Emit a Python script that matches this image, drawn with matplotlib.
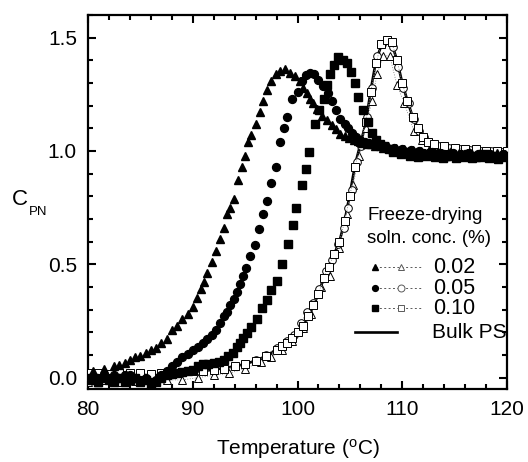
import matplotlib
matplotlib.use("Agg")
import matplotlib.pyplot as plt
from matplotlib.ticker import MultipleLocator

plt.rcParams['font.family'] = ['Liberation Sans', 'DejaVu Sans']
plt.rcParams['mathtext.fontset'] = 'custom'
plt.rcParams['mathtext.rm'] = 'Liberation Sans'
plt.rcParams['mathtext.it'] = 'Liberation Sans'

# ---------------- data ----------------
# 0.02 % (filled triangles)
T_tri = [80.0, 80.5, 81.0, 81.5, 82.0, 82.5, 83.0, 83.5, 84.0, 84.5, 85.0, 85.5, 86.0, 86.5,
         87.0, 87.5, 88.0, 88.5, 89.0, 89.5, 90.0, 90.4, 90.8, 91.1, 91.4, 91.8, 92.2, 92.6,
         93.0, 93.3, 93.6, 93.9, 94.3, 94.7, 95.0, 95.3, 95.6, 96.0, 96.4, 96.7, 97.1, 97.5,
         97.9, 98.3, 98.8, 99.3, 99.8, 100.2, 100.5, 100.9, 101.2, 101.5, 101.9, 102.3,
         102.8, 103.3, 103.7, 104.1, 104.5, 104.9,
         105.4, 105.8, 106.2, 106.6, 107.0, 107.4, 107.8, 108.2, 108.6, 109.0, 109.4, 109.8,
         110.2, 110.6, 111.0, 111.4, 111.8, 112.2, 112.6, 113.0, 113.4, 113.8, 114.2, 114.6,
         115.0, 115.4, 115.8, 116.2, 116.6, 117.0, 117.4, 117.8, 118.2, 118.6, 119.0, 119.4, 119.8]
C_tri = [0.0, 0.03, -0.02, 0.04, 0.0, 0.05, 0.055, 0.065, 0.08, 0.09, 0.095, 0.11, 0.12, 0.13,
         0.155, 0.17, 0.21, 0.23, 0.26, 0.28, 0.31, 0.35, 0.39, 0.42, 0.46, 0.51, 0.56, 0.61,
         0.66, 0.72, 0.75, 0.79, 0.87, 0.93, 0.98, 1.04, 1.07, 1.12, 1.17, 1.22, 1.27, 1.31,
         1.34, 1.355, 1.36, 1.345, 1.33, 1.31, 1.28, 1.256, 1.23, 1.21, 1.186, 1.153,
         1.136, 1.114, 1.095, 1.075, 1.066, 1.058,
         1.05, 1.045, 1.035, 1.03, 1.03, 1.02, 1.025, 1.015, 1.02, 1.01, 1.015, 1.005,
         1.01, 1.0, 1.005, 0.995, 1.0, 0.99, 1.0, 0.985, 0.995, 0.99, 0.98, 0.995,
         0.985, 0.99, 0.98, 0.99, 0.985, 0.975, 0.99, 0.98, 0.985, 0.975, 0.99, 0.98, 0.985]

# 0.05 % (filled circles)
T_cir = [80.0, 80.5, 81.0, 81.5, 82.0, 82.5, 83.0, 83.5, 84.0, 84.5, 85.0, 85.5, 86.0, 86.5,
         87.0, 87.5, 88.0, 88.5, 89.0, 89.5, 90.0, 90.5, 91.0, 91.4, 91.8, 92.2, 92.6, 93.0,
         93.3, 93.6, 93.9, 94.2, 94.5, 94.8, 95.1, 95.5, 95.9, 96.3, 96.7, 97.1, 97.5, 97.9,
         98.3, 98.7, 99.0, 99.5, 100.0, 100.4, 100.8, 101.2, 101.6, 102.0, 102.4, 102.9,
         103.3, 103.7, 104.1, 104.5, 104.8, 105.2, 105.6, 106.0,
         106.4, 106.8, 107.2, 107.6, 108.0, 108.4, 108.8, 109.2, 109.6, 110.0, 110.4, 110.8,
         111.2, 111.6, 112.0, 112.4, 112.8, 113.2, 113.6, 114.0, 114.4, 114.8, 115.2, 115.6,
         116.0, 116.4, 116.8, 117.2, 117.6, 118.0, 118.4, 118.8, 119.2, 119.6, 120.0]
C_cir = [0.0, -0.01, 0.0, 0.01, 0.0, 0.01, 0.0, 0.01, 0.01, 0.0, -0.01, 0.0, -0.02, -0.01,
         0.01, 0.03, 0.05, 0.07, 0.09, 0.105, 0.12, 0.135, 0.155, 0.17, 0.19, 0.21, 0.24, 0.27,
         0.29, 0.32, 0.345, 0.38, 0.415, 0.45, 0.485, 0.535, 0.585, 0.655, 0.72, 0.78, 0.86, 0.93,
         1.04, 1.10, 1.15, 1.23, 1.26, 1.31, 1.335, 1.345, 1.34, 1.315, 1.285, 1.255,
         1.22, 1.18, 1.14, 1.12, 1.10, 1.08, 1.06, 1.05,
         1.04, 1.035, 1.03, 1.02, 1.025, 1.015, 1.01, 1.015, 1.0, 1.01, 0.995, 1.005,
         0.99, 1.0, 0.99, 0.985, 0.995, 0.98, 0.99, 0.985, 0.98, 0.99, 0.975, 0.985,
         0.98, 0.99, 0.975, 0.985, 0.98, 0.975, 0.985, 0.98, 0.97, 0.985, 0.98]

# 0.10 % (filled squares)
T_sq = [80.0, 80.5, 81.0, 81.5, 82.0, 82.5, 83.0, 83.5, 84.0, 84.5, 85.0, 85.5, 86.0, 86.5,
        87.0, 87.5, 88.0, 88.5, 89.0, 89.5, 90.0, 90.5, 91.0, 91.5, 92.0, 92.5, 93.0, 93.4,
        93.8, 94.2, 94.5, 94.8, 95.2, 95.6, 96.1, 96.6, 97.1, 97.5, 98.0, 98.5, 99.1, 99.6,
        99.9, 100.4, 100.8, 101.1, 101.7, 102.1, 102.5, 102.8, 103.1, 103.5, 103.9, 104.3,
        104.7, 105.1, 105.5, 105.8, 106.3, 106.7, 107.1, 107.5, 107.9,
        108.3, 108.7, 109.1, 109.5, 109.9, 110.3, 110.7, 111.1, 111.5, 111.9, 112.3, 112.7,
        113.1, 113.5, 113.9, 114.3, 114.7, 115.1, 115.5, 115.9, 116.3, 116.7, 117.1, 117.5,
        117.9, 118.3, 118.7, 119.1, 119.5, 119.9]
C_sq = [-0.01, 0.0, -0.02, 0.0, -0.01, -0.02, 0.0, -0.02, -0.01, 0.0, -0.02, -0.01, -0.03, -0.02,
        0.0, 0.01, 0.015, 0.02, 0.025, 0.03, 0.035, 0.05, 0.06, 0.062, 0.065, 0.07, 0.08, 0.095,
        0.11, 0.137, 0.155, 0.174, 0.196, 0.222, 0.259, 0.306, 0.342, 0.386, 0.427, 0.50, 0.588, 0.675,
        0.748, 0.851, 0.922, 0.996, 1.12, 1.18, 1.23, 1.29, 1.34, 1.38, 1.415, 1.40,
        1.39, 1.35, 1.30, 1.24, 1.18, 1.13, 1.08, 1.05, 1.03,
        1.02, 1.01, 0.995, 1.0, 0.985, 0.995, 0.98, 0.99, 0.975, 0.985, 0.98, 0.99,
        0.975, 0.985, 0.97, 0.98, 0.985, 0.97, 0.98, 0.975, 0.985, 0.97, 0.98, 0.975,
        0.985, 0.97, 0.98, 0.965, 0.975, 0.98]

# Bulk PS (solid line)
T_bulk = [80, 82, 84, 86, 88, 90, 92, 94, 95, 96, 97, 98, 99, 100, 100.5, 101, 101.5, 102,
          102.5, 103, 103.5, 104, 104.5, 105, 105.5, 106, 106.5, 107, 107.5, 108, 108.5, 109,
          109.5, 110, 110.5, 111, 111.5, 112, 112.5, 113, 114, 115, 116, 117, 118, 119, 120]
C_bulk = [0.0, 0.0, 0.005, 0.01, 0.015, 0.025, 0.035, 0.05, 0.06, 0.075, 0.095, 0.125, 0.155, 0.195,
          0.225, 0.265, 0.315, 0.37, 0.44, 0.49, 0.545, 0.60, 0.69, 0.81, 0.94, 1.03, 1.12, 1.27,
          1.40, 1.465, 1.49, 1.475, 1.40, 1.30, 1.22, 1.15, 1.10, 1.06, 1.04, 1.025, 1.015, 1.01,
          1.005, 1.0, 1.0, 0.995, 0.995]

# Open symbols
T_osq = [80, 81, 82, 83, 84, 85, 86, 87, 88, 89, 90, 91, 92, 93, 94, 95, 96, 97, 98, 98.5, 99,
         99.5, 100, 100.5, 101, 101.5, 102, 102.5, 103, 103.5, 104, 104.5, 105, 105.5, 106,
         106.5, 107, 107.5, 108, 108.5, 109, 109.5, 110, 110.5, 111, 111.5, 112, 112.5, 113,
         114, 115, 116, 117, 118, 119, 120]
C_osq = [0.02, 0.02, 0.015, 0.02, 0.02, 0.02, 0.015, 0.02, 0.02, 0.025, 0.03, 0.03, 0.035, 0.04,
         0.05, 0.06, 0.075, 0.095, 0.12, 0.14, 0.155, 0.175, 0.20, 0.23, 0.27, 0.32, 0.37, 0.44,
         0.49, 0.545, 0.60, 0.69, 0.80, 0.93, 1.04, 1.13, 1.26, 1.39, 1.47, 1.49, 1.48, 1.40,
         1.30, 1.22, 1.15, 1.10, 1.06, 1.04, 1.03, 1.02, 1.015, 1.01, 1.01, 1.0, 1.0, 1.0]
T_ocir = [96, 97, 98, 99, 99.7, 100.3, 100.9, 101.5, 102.1, 102.7, 103.3, 103.9, 104.4,
          104.8, 105.2, 105.7, 106.1, 106.6, 107.1, 107.6, 108.1, 108.6, 109.1, 109.6, 110.1,
          110.6, 111.1, 111.6, 112.1, 112.6, 113.5, 114.5, 115.5, 116.5, 117.5, 118.5, 119.5]
C_ocir = [0.08, 0.10, 0.13, 0.16, 0.19, 0.24, 0.29, 0.33, 0.39, 0.47, 0.52, 0.59, 0.66,
          0.75, 0.83, 0.95, 1.02, 1.15, 1.28, 1.42, 1.47, 1.49, 1.46, 1.37, 1.28,
          1.21, 1.14, 1.09, 1.06, 1.04, 1.02, 1.015, 1.01, 1.005, 1.0, 1.0, 0.995]
T_otri = [80, 81.5, 83, 84.5, 86, 87.5, 89, 90.5, 92, 93.5, 95, 96.5, 97.5, 98.5, 99.5, 100.5,
          101.3, 102.2, 103.1, 104.0, 104.7, 105.3, 105.9, 106.5, 107.1, 107.6, 108.2, 108.8,
          109.5, 110.2, 111.1, 111.9, 112.8, 114.0, 115.3, 116.8, 118.2, 119.6]
C_otri = [-0.02, -0.01, -0.02, -0.015, -0.02, -0.01, -0.01, 0.0, 0.01, 0.02, 0.04, 0.07, 0.09,
          0.12, 0.16, 0.22, 0.28, 0.40, 0.45, 0.57, 0.72, 0.85, 0.98, 1.10, 1.22, 1.34, 1.42, 1.42,
          1.29, 1.21, 1.09, 1.05, 1.03, 1.01, 1.0, 0.987, 0.99, 0.985]

legend_title = ["Freeze-drying", "soln. conc. (%)"]
legend_labels = ["0.02", "0.05", "0.10", "Bulk PS"]

# ---------------- figure ----------------
fig = plt.figure(figsize=(5.28, 4.62), dpi=100)
ax = fig.add_axes([88/528, 1-389/462, (507-88)/528, (389-15)/462])

dot_kw = dict(color='0.45', lw=0.6, ls=(0, (1, 2)))
ax.plot(T_bulk, C_bulk, color='black', lw=1.9, zorder=2)
ax.plot(T_otri, C_otri, marker='^', mfc='white', mec='black', mew=0.7, ms=6, **dot_kw, zorder=3)
ax.plot(T_ocir, C_ocir, marker='o', mfc='white', mec='black', mew=0.7, ms=5.5, **dot_kw, zorder=3)
ax.plot(T_osq, C_osq, marker='s', mfc='white', mec='black', mew=0.7, ms=5.5, **dot_kw, zorder=3)
ax.plot(T_tri, C_tri, ls='none', marker='^', color='black', ms=6.3, zorder=4)
ax.plot(T_cir, C_cir, ls='none', marker='o', color='black', ms=5.7, zorder=4)
ax.plot(T_sq, C_sq, ls='none', marker='s', color='black', ms=5.5, zorder=4)

ax.set_xlim(80, 120)
ax.set_ylim(-0.05, 1.6)
ax.xaxis.set_major_locator(MultipleLocator(10))
ax.xaxis.set_minor_locator(MultipleLocator(2))
ax.yaxis.set_major_locator(MultipleLocator(0.5))
ax.yaxis.set_minor_locator(MultipleLocator(0.1))
ax.yaxis.set_major_formatter(matplotlib.ticker.FormatStrFormatter('%.1f'))
ax.tick_params(which='both', direction='in', top=True, right=True, width=1.5, labelsize=15)
ax.tick_params(which='major', length=6, pad=8)
ax.tick_params(which='minor', length=3.5)
for s in ax.spines.values():
    s.set_linewidth(1.6)

ax.set_xlabel(r"Temperature ($^{\rm o}$C)", fontsize=15, labelpad=13)
fig.text(12/528, 1-205/462, "C", fontsize=16, ha='left', va='baseline')
fig.text(29/528, 1-215/462, "PN", fontsize=9.5, ha='left', va='baseline')

# legend (manual)
ax.text(0.666, 0.452, legend_title[0], transform=ax.transAxes, fontsize=13.5,
        ha='left', va='baseline')
ax.text(0.666, 0.390, legend_title[1], transform=ax.transAxes, fontsize=13.5,
        ha='left', va='baseline')
rows_y = [0.326, 0.270, 0.216]
fmk = ['^', 'o', 's']
for y, m, lab in zip(rows_y, fmk, legend_labels[:3]):
    ax.plot([0.685, 0.795], [y, y], transform=ax.transAxes, color='0.35', lw=0.7,
            ls=(0, (2, 2.5)), clip_on=False)
    ax.plot([0.685], [y], transform=ax.transAxes, marker=m, color='black', ms=4.2, ls='none')
    ax.plot([0.748], [y], transform=ax.transAxes, marker=m, mfc='white', mec='0.35',
            mew=0.7, ms=5, ls='none')
    ax.text(0.823, y, lab, transform=ax.transAxes, fontsize=15.5, ha='left', va='center')
ax.plot([0.637, 0.738], [0.152, 0.152], transform=ax.transAxes, color='black', lw=1.9)
ax.text(0.821, 0.152, legend_labels[3], transform=ax.transAxes, fontsize=15,
        ha='left', va='center')

fig.savefig("out.png", dpi=100)
